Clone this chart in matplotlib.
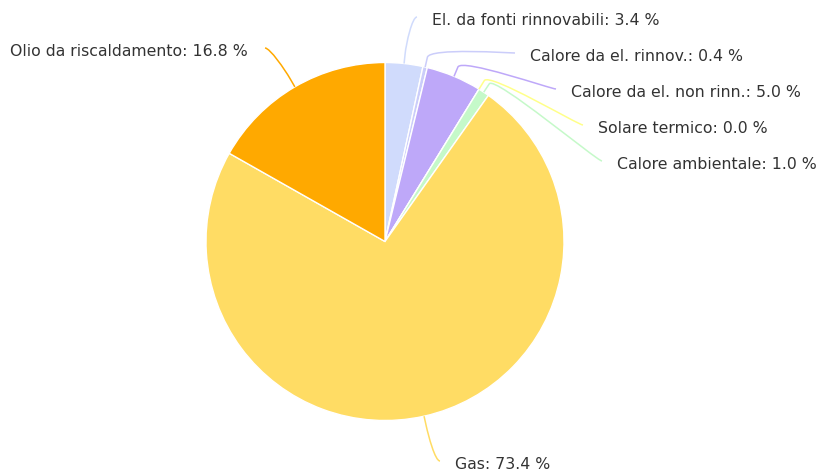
import numpy as np
import matplotlib
matplotlib.use("Agg")
from matplotlib import pyplot as plt
from matplotlib.path import Path
from matplotlib.patches import PathPatch

labels = ["El. da fonti rinnovabili", "Calore da el. rinnov.", "Calore da el. non rinn.",
          "Solare termico", "Calore ambientale", "Gas", "Olio da riscaldamento"]
values = [3.4, 0.4, 5.0, 0.0, 1.0, 73.4, 16.8]
colors = ["#d0dbfc", "#cbcdfa", "#bea8f9", "#ffff8a", "#c5f9c9", "#ffdc64", "#ffa900"]

# label anchor points (pixels, y from top) where the connector ends
anchors = [(417, 17), (515, 53), (556, 89), (583, 125), (602, 161), (440, 461), (265, 48)]

W, H = 817, 471
cx, cy, r = 385, 241.5, 179
break_dist = 10


def to_ax(x, y):
    return x, H - y


fig = plt.figure(figsize=(W / 100, H / 100), dpi=100)
ax = fig.add_axes([0, 0, 1, 1])

ax.pie(values, colors=colors, startangle=90, counterclock=False,
       center=to_ax(cx, cy), radius=r,
       wedgeprops=dict(edgecolor="white", linewidth=1))
ax.set_xlim(0, W)
ax.set_ylim(0, H)
ax.set_aspect("auto")
ax.axis("off")

total = sum(values)
cum = 0.0
for lab, v, col, (lx, ly) in zip(labels, values, colors, anchors):
    mid = (cum + v / 2) / total * 2 * np.pi
    cum += v
    dx, dy = np.sin(mid), -np.cos(mid)
    tx, ty = cx + r * dx, cy + r * dy
    bx, by = cx + (r + break_dist) * dx, cy + (r + break_dist) * dy
    left = lx < cx
    c1 = (lx + (5 if left else -5), ly)
    c2 = (2 * bx - tx, 2 * by - ty)
    verts = [to_ax(lx, ly), to_ax(*c1), to_ax(*c2), to_ax(bx, by), to_ax(tx, ty)]
    codes = [Path.MOVETO, Path.CURVE4, Path.CURVE4, Path.CURVE4, Path.LINETO]
    ax.add_patch(PathPatch(Path(verts, codes), facecolor="none", edgecolor=col, lw=1.1))
    text = "%s: %.1f %%" % (lab, v)
    if left:
        ax.text(*to_ax(lx - 17, ly + 3.5), text, ha="right", va="center",
                fontsize=11.3, color="#333333")
    else:
        ax.text(*to_ax(lx + 15, ly + 3.5), text, ha="left", va="center",
                fontsize=11.3, color="#333333")

fig.savefig("out.png", dpi=100)
